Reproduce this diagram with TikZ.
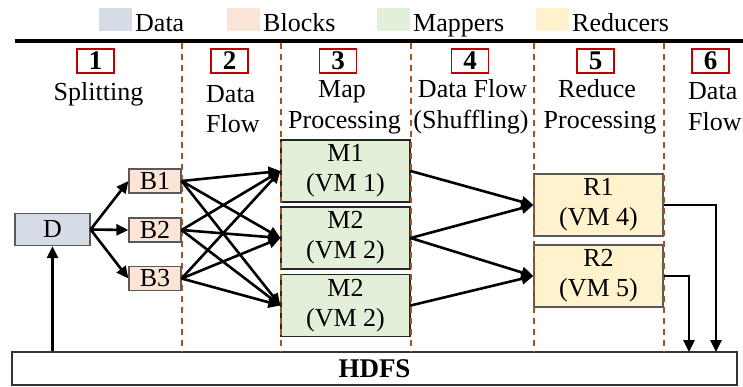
\documentclass[tikz,border=0pt]{standalone}
\usepackage{fontspec}
\setmainfont{Liberation Serif}
\usetikzlibrary{arrows.meta}
\definecolor{datafill}{HTML}{D6DCE5}
\definecolor{blockfill}{HTML}{FBE5D6}
\definecolor{mapfill}{HTML}{E2F0D9}
\definecolor{redfill}{HTML}{FFF2CC}
\definecolor{numred}{HTML}{C00000}
\definecolor{sepbrown}{RGB}{165,82,36}
\definecolor{edgegray}{HTML}{595959}
\tikzset{
  txt/.style={inner sep=0pt, font=\fontsize{26}{31}\selectfont},
  box/.style={draw=edgegray, line width=1.2pt, inner sep=0pt, align=center,
    font=\fontsize{26}{30}\selectfont},
  numbox/.style={draw=numred, line width=1.8pt, fill=white, inner sep=0pt,
    minimum width=37pt, minimum height=24pt, font=\fontsize{27}{27}\selectfont\bfseries},
  arr/.style={line width=2.6pt, -{Triangle[length=12pt,width=11pt]}},
  sep/.style={draw=sepbrown, line width=2pt, dash pattern=on 6pt off 5pt},
  swatch/.style={inner sep=0pt, minimum width=33pt, minimum height=23pt},
}
\begin{document}
\begin{tikzpicture}[x=1pt,y=-1pt]
\useasboundingbox (0,0) rectangle (743,386);

% legend
\node[swatch, fill=datafill]  (sw1) at (115.5,19.5) {};
\node[swatch, fill=blockfill] (sw2) at (243,19.5) {};
\node[swatch, fill=mapfill]   (sw3) at (393.5,19.5) {};
\node[swatch, fill=redfill]   (sw4) at (552,19.5) {};
\node[txt, anchor=base west] (lg1) at (135,31) {Data};
\node[txt, anchor=base west] (lg2) at (263,31) {Blocks};
\node[txt, anchor=base west] (lg3) at (413,31) {Mappers};
\node[txt, anchor=base west] (lg4) at (572,31) {Reducers};

% heavy rule under the legend
\draw[line width=4pt] (15,41) -- (743,41);

% processing nodes
\node[box, fill=datafill, minimum width=75pt, minimum height=32pt] (D) at (52.5,229.5) {D};
\node[box, fill=blockfill, minimum width=52pt, minimum height=24pt] (B1) at (155,181) {B1};
\node[box, fill=blockfill, minimum width=52pt, minimum height=24pt] (B2) at (155,230) {B2};
\node[box, fill=blockfill, minimum width=52pt, minimum height=24pt] (B3) at (155,278.5) {B3};
\node[box, draw=black!85, fill=mapfill, minimum width=129pt, minimum height=62pt] (M1) at (345.5,171) {M1\\(VM 1)};
\node[box, draw=black!85, fill=mapfill, minimum width=129pt, minimum height=62pt] (M2) at (345.5,238) {M2\\(VM 2)};
\node[box, draw=black!85, fill=mapfill, minimum width=129pt, minimum height=62pt] (M3) at (345.5,305.5) {M2\\(VM 2)};
\node[box, fill=redfill, minimum width=129pt, minimum height=62pt] (R1) at (598.5,205) {R1\\(VM 4)};
\node[box, fill=redfill, minimum width=129pt, minimum height=62pt] (R2) at (598.5,276) {R2\\(VM 5)};
\node[box, draw=black!80, minimum width=725pt, minimum height=33pt,
  font=\fontsize{27}{30}\selectfont\bfseries] (HDFS) at (374.5,368.5) {HDFS};

% stage separators
\draw[sep] (182,43) -- (182,352);
\draw[sep] (280.5,43) -- (280.5,352);
\draw[sep] (410.5,43) -- (410.5,352);
\draw[sep] (533.5,43) -- (533.5,352);
\draw[sep] (663.5,43) -- (663.5,352);

% stage headers
\node[numbox] (n1) at (95.5,61) {1};
\node[numbox] (n2) at (229.5,61) {2};
\node[numbox] (n3) at (338,61) {3};
\node[numbox] (n4) at (470,61) {4};
\node[numbox] (n5) at (595.5,61) {5};
\node[numbox] (n6) at (710.5,61) {6};

\node[txt, anchor=base] (h1) at (98.5,100) {Splitting};
\node[txt, anchor=base west] (h2a) at (206,102) {Data};
\node[txt, anchor=base west] (h2b) at (206,132) {Flow};
\node[txt, anchor=base] (h3a) at (342,97) {Map};
\node[txt, anchor=base] (h3b) at (344.5,128) {Processing};
\node[txt, anchor=base] (h4a) at (472.5,97) {Data Flow};
\node[txt, anchor=base] (h4b) at (471,128) {(Shuffling)};
\node[txt, anchor=base] (h5a) at (597,97) {Reduce};
\node[txt, anchor=base] (h5b) at (600,128) {Processing};
\node[txt, anchor=base west] (h6a) at (688,99) {Data};
\node[txt, anchor=base west] (h6b) at (688,130) {Flow};

% data flow
\draw[arr] (HDFS.north -| D.south) -- (D.south);
\foreach \b in {B1,B2,B3} \draw[arr] (D.east) -- (\b.west);
\foreach \b in {B1,B2,B3}
  \foreach \m in {M1,M2,M3}
    \draw[arr] (\b.east) -- (\m.west);
\draw[arr] (M1.east) -- (R1.west);
\draw[arr] (M2.east) -- (R1.west);
\draw[arr] (M2.east) -- (R2.west);
\draw[arr] (M3.east) -- (R2.west);
\coordinate (out1) at (716,352);
\coordinate (out2) at (689,352);
\draw[arr] (R1.east) -| (out1);
\draw[arr] (R2.east) -| (out2);
\end{tikzpicture}
\end{document}
